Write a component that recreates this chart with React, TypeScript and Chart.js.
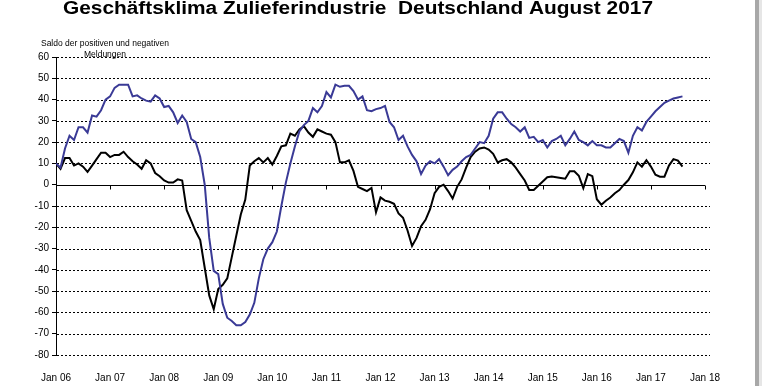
import React, { useEffect, useRef } from "react";
import { Chart, registerables } from "chart.js";

Chart.register(...registerables);

// Monthly values Jan 2006 .. Aug 2017 (index 0 = Jan 06)
const startYear = 2006;
const yearTickLabels = [
  "Jan 06", "Jan 07", "Jan 08", "Jan 09", "Jan 10", "Jan 11", "Jan 12",
  "Jan 13", "Jan 14", "Jan 15", "Jan 16", "Jan 17", "Jan 18",
];
const yTickValues = [60, 50, 40, 30, 20, 10, 0, -10, -20, -30, -40, -50, -60, -70, -80];

// blue series
const klima = [
  10, 8, 17, 23, 21, 27, 27, 24.5, 32.5, 32, 35, 40,
  41.5, 45.5, 47, 47, 47, 41.5, 42, 40.5, 39.5, 39, 42, 40.5,
  36.5, 37, 34, 29, 32.5, 29.5, 21.5, 20, 13, 0, -25, -40.5,
  -42, -56, -62.5, -64, -66, -66, -64.5, -61, -55.5, -44, -35, -30,
  -27, -22, -10, 1, 10, 18, 25, 28, 30, 36, 34, 37,
  43.5, 41, 47, 46, 46.5, 46.5, 44, 40, 41.5, 35, 34.5, 35.5,
  36, 37, 29.5, 27, 21, 23, 18, 14, 11, 5, 9, 11,
  10, 12, 8.5, 4.5, 7, 8.5, 11, 13, 14, 17, 20, 19.5,
  23, 31, 34, 34, 31, 28.5, 27, 25, 27, 22, 22.5, 20,
  21, 17.5, 20.5, 21.5, 23, 18.5, 21.5, 25, 21, 20, 18.5, 20.5,
  18.5, 18.5, 17.5, 17.5, 19.5, 21.5, 20.5, 15, 23, 27, 25.5, 29.5,
  32, 34.5, 36.5, 38.5, 39.5, 40.5, 41, 41.5,
];

// black series
const lage = [
  10, 7.5, 12.5, 12.5, 9, 10, 8.5, 6, 9, 12, 15, 15,
  13, 14, 14, 15.5, 13, 11, 9.5, 7.5, 11.5, 10, 5.5, 4,
  2, 1, 1, 2.5, 2, -12, -17, -22, -26, -39, -52, -58.5,
  -49, -47, -44, -34, -24, -14, -7, 9, 11, 12.5, 10.5, 12.5,
  9.5, 13.5, 18, 18.5, 24, 23, 26, 27.5, 24.5, 22.5, 26, 25,
  24, 23.5, 20, 10.5, 10.5, 11.5, 6.5, -1, -2, -3, -1.5, -13,
  -6, -7.5, -8, -9, -13.5, -15.5, -21.5, -28.8, -25, -19.5, -16.5, -11.5,
  -4, -1, 0, -3, -6.5, -1, 2.5, 8, 13, 15.5, 17, 17.5,
  16.5, 14.5, 10.5, 11.5, 12, 10.5, 8, 5, 2, -2.5, -2.5, -0.5,
  1.5, 3.5, 3.8, 3.5, 3.2, 2.8, 6.3, 6.3, 4.2, -1.6, 5, 4,
  -6.8, -9.4, -7.5, -6, -4, -2.5, 0, 2.2, 5.8, 10.5, 8.5, 11.5,
  8.5, 4.7, 3.8, 3.8, 9, 12, 11.3, 8.5,
];

const titleText = "Geschäftsklima Zulieferindustrie  Deutschland August 2017";
const yTitleLines = ["Saldo der positiven und negativen", "Meldungen"];

const FONT = "'Liberation Sans', Arial, Helvetica, sans-serif";

export default function App() {
  const ref = useRef<HTMLCanvasElement | null>(null);

  useEffect(() => {
    document.body.style.margin = "0";
    const canvas = ref.current;
    if (!canvas) return;

    const gridPlugin = {
      id: "refGrid",
      beforeDatasetsDraw(chart: any) {
        const { ctx, chartArea } = chart;
        const ys = chart.scales.y;
        const xs = chart.scales.x;
        ctx.save();
        ctx.strokeStyle = "#000";
        ctx.lineWidth = 1;
        ctx.setLineDash([2, 2]);
        ys.ticks.forEach((t: any) => {
          if (t.value === 0) return;
          const py = Math.round(ys.getPixelForValue(t.value)) + 0.5;
          ctx.beginPath();
          ctx.moveTo(chartArea.left + 1, py);
          ctx.lineTo(chartArea.right + 5, py);
          ctx.stroke();
        });
        ctx.setLineDash([]);
        const zy = Math.round(ys.getPixelForValue(0)) + 0.5;
        ctx.beginPath();
        ctx.moveTo(chartArea.left, zy);
        ctx.lineTo(chartArea.right, zy);
        ctx.stroke();
        xs.ticks.forEach((t: any) => {
          const px = Math.round(xs.getPixelForValue(t.value)) + 0.5;
          ctx.beginPath();
          ctx.moveTo(px, zy);
          ctx.lineTo(px, zy + 4);
          ctx.stroke();
        });
        ctx.restore();
      },
      afterDraw(chart: any) {
        const { ctx } = chart;
        ctx.save();
        ctx.fillStyle = "#000";
        ctx.textBaseline = "alphabetic";
        // title: Arial-like bold, stretched to the reference's width
        ctx.font = `bold 18px ${FONT}`;
        ctx.textAlign = "left";
        const w = ctx.measureText(titleText).width;
        const targetW = 590;
        const sx = targetW / w;
        ctx.save();
        ctx.translate(358 - targetW / 2, 14);
        ctx.scale(sx, 1);
        ctx.fillText(titleText, 0, 0);
        ctx.restore();
        ctx.textAlign = "center";
        ctx.font = `8.5px ${FONT}`;
        ctx.fillText(yTitleLines[0], 105, 46);
        ctx.fillText(yTitleLines[1], 105, 57);
        ctx.restore();
      },
    };

    const chart = new Chart(canvas, {
      type: "line",
      data: {
        datasets: [
          {
            label: "Geschäftsklima",
            data: klima.map((v, i) => ({ x: i, y: v })),
            borderColor: "#3a3a96",
            borderWidth: 2,
            pointRadius: 0,
            tension: 0,
            fill: false,
          },
          {
            label: "Geschäftslage",
            data: lage.map((v, i) => ({ x: i, y: v })),
            borderColor: "#000000",
            borderWidth: 2,
            pointRadius: 0,
            tension: 0,
            fill: false,
          },
        ],
      },
      options: {
        animation: false,
        responsive: false,
        devicePixelRatio: 1,
        layout: { padding: { left: 0, right: 57, top: 57, bottom: 0 } },
        plugins: {
          legend: { display: false },
          title: { display: false },
          tooltip: { enabled: false },
        },
        scales: {
          x: {
            type: "linear",
            min: 0,
            max: (yearTickLabels.length - 1) * 12,
            afterFit(scale: any) {
              scale.height = 31;
            },
            afterBuildTicks(scale: any) {
              scale.ticks = yearTickLabels.map((_, i) => ({ value: i * 12 }));
            },
            ticks: {
              autoSkip: false,
              maxRotation: 0,
              padding: 9,
              color: "#000",
              font: { size: 10, family: FONT },
              callback: (v: any) => yearTickLabels[Math.round(Number(v) / 12)] ?? "",
            },
            grid: { display: false },
            border: { display: false },
          },
          y: {
            type: "linear",
            min: -80,
            max: 60,
            afterFit(scale: any) {
              scale.width = 56;
            },
            afterBuildTicks(scale: any) {
              scale.ticks = yTickValues.map((v) => ({ value: v }));
            },
            ticks: {
              padding: 3,
              color: "#000",
              font: { size: 10, family: FONT },
              callback: (v: any) => String(v),
            },
            grid: {
              display: true,
              drawOnChartArea: false,
              drawTicks: true,
              tickLength: 4,
              color: "#000",
            },
            border: { display: true, color: "#000", width: 1 },
          },
        },
      },
      plugins: [gridPlugin],
    });

    return () => chart.destroy();
  }, []);

  return (
    <div style={{ position: "relative", width: 762, height: 386, background: "#fff", overflow: "hidden" }}>
      <canvas ref={ref} width={762} height={386} style={{ display: "block", width: 762, height: 386 }} />
      <div style={{ position: "absolute", left: 755, top: 0, width: 4, height: 386, background: "#a8a8a8" }} />
      <div style={{ position: "absolute", left: 759, top: 0, width: 3, height: 386, background: "#e6e6e6" }} />
    </div>
  );
}
